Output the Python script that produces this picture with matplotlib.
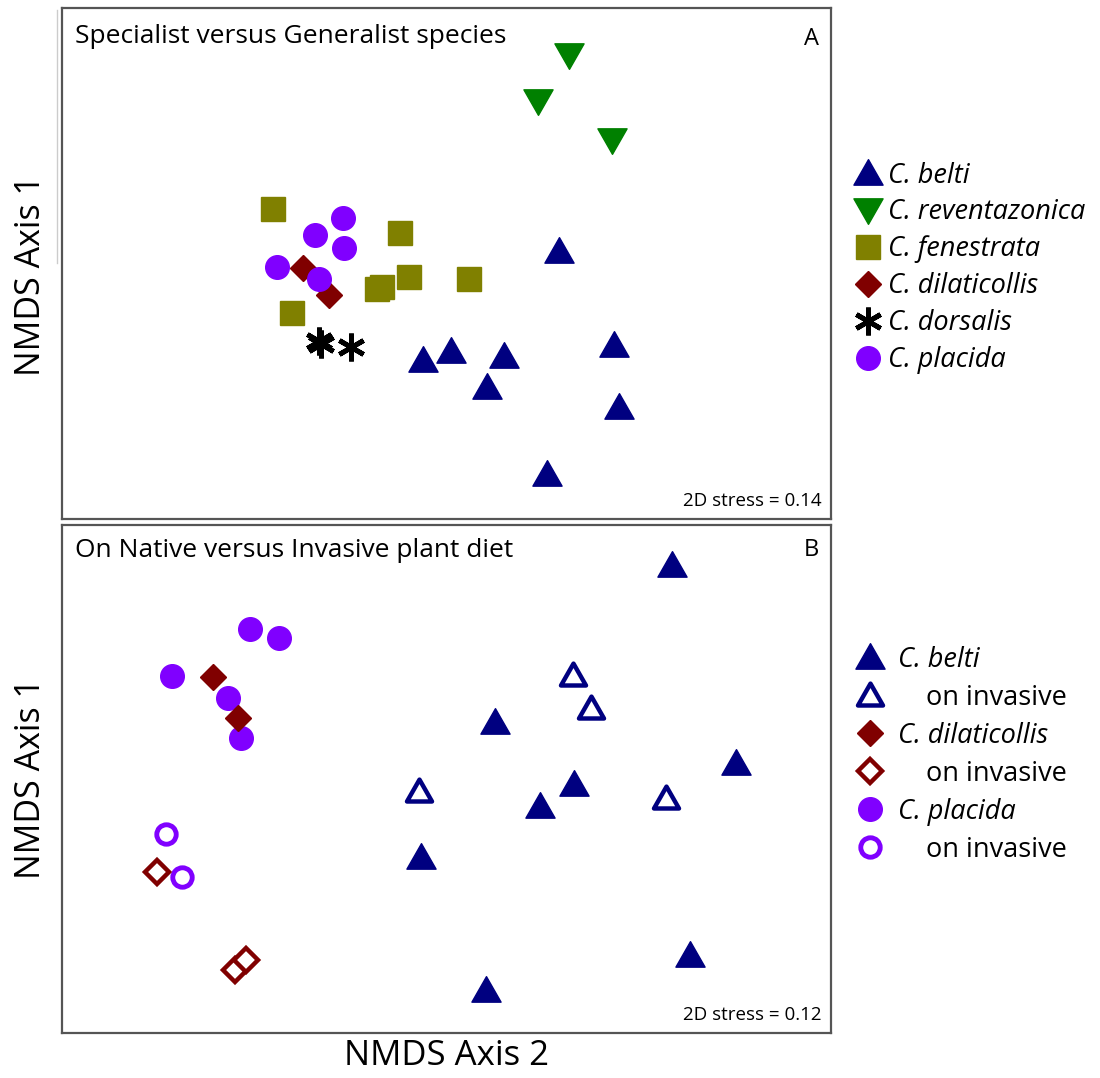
import matplotlib
matplotlib.use('Agg')
import matplotlib.pyplot as plt
from matplotlib.lines import Line2D
from matplotlib.path import Path

plt.rcParams['font.family'] = ['Open Sans', 'DejaVu Sans']

# ---- panel A: specialist vs generalist (NMDS scores, arbitrary units) ----
belti_a_x = [497, 552, 361, 389, 442, 425, 557, 485]
belti_a_y = [268, 174, 159, 168, 163, 132, 112, 45]
revent_x = [507, 476, 550]
revent_y = [464, 418, 379]
fenest_x = [211, 338, 347, 315, 320, 407, 230]
fenest_y = [310, 286, 242, 230, 232, 240, 206]
dilat_a_x = [241, 267]
dilat_a_y = [251, 224]
dorsal_x = [257, 259, 289]
dorsal_y = [178, 175, 172]
placida_a_x = [281, 253, 282, 215, 257]
placida_a_y = [301, 284, 271, 252, 240]

# ---- panel B: native vs invasive plant diet ----
belti_nat_x = [610, 433, 674, 512, 478, 359, 628, 424]
belti_nat_y = [468, 311, 270, 249, 227, 176, 78, 43]
belti_inv_x = [511, 529, 357, 604]
belti_inv_y = [358, 325, 242, 235]
dilat_nat_x = [151, 176]
dilat_nat_y = [356, 315]
dilat_inv_x = [95, 173, 184]
dilat_inv_y = [161, 63, 73]
placida_nat_x = [188, 217, 110, 166, 179]
placida_nat_y = [404, 395, 357, 335, 295]
placida_inv_x = [104, 120]
placida_inv_y = [199, 156]

NAVY = '#000080'
GREEN = '#008000'
OLIVE = '#808000'
DRED = '#800000'
PURPLE = '#8000ff'

tri_up = Path([(-1, -0.8), (1, -0.8), (0, 0.95), (-1, -0.8)], closed=True)
tri_dn = Path([(-1, 0.8), (1, 0.8), (0, -0.95), (-1, 0.8)], closed=True)
asterisk = (6, 2, 0)

fig = plt.figure(figsize=(11, 10.78), dpi=100)
W, H = 1100.0, 1078.0
axA = fig.add_axes([62 / W, 1 - 519 / H, 769 / W, 511 / H])
axB = fig.add_axes([62 / W, 1 - 1033 / H, 769 / W, 508 / H])

for ax, ylim in ((axA, 511), (axB, 508)):
    ax.set_xlim(0, 769)
    ax.set_ylim(0, ylim)
    ax.set_xticks([])
    ax.set_yticks([])
    for s in ax.spines.values():
        s.set_color('#555555')
        s.set_linewidth(1.6)

# panel A points
axA.plot(belti_a_x, belti_a_y, ls='none', marker=tri_up, ms=21, color=NAVY)
axA.plot(revent_x, revent_y, ls='none', marker=tri_dn, ms=21, color=GREEN)
axA.plot(fenest_x, fenest_y, ls='none', marker='s', ms=17, color=OLIVE)
axA.plot(dilat_a_x, dilat_a_y, ls='none', marker='D', ms=13.5, color=DRED)
axA.plot(dorsal_x, dorsal_y, ls='none', marker=asterisk, ms=20, mew=3.5, color='black')
axA.plot(placida_a_x, placida_a_y, ls='none', marker='o', ms=17, color=PURPLE)

# panel B points
axB.plot(belti_nat_x, belti_nat_y, ls='none', marker=tri_up, ms=21, color=NAVY)
axB.plot(belti_inv_x, belti_inv_y, ls='none', marker=tri_up, ms=18, mfc='white', mec=NAVY, mew=3.2)
axB.plot(placida_nat_x, placida_nat_y, ls='none', marker='o', ms=17, color=PURPLE)
axB.plot(dilat_nat_x, dilat_nat_y, ls='none', marker='D', ms=13.5, color=DRED)
axB.plot(placida_inv_x, placida_inv_y, ls='none', marker='o', ms=14, mfc='white', mec=PURPLE, mew=3.5)
axB.plot(dilat_inv_x, dilat_inv_y, ls='none', marker='D', ms=12, mfc='white', mec=DRED, mew=3.2)

# panel annotations
axA.text(0.017, 0.945, 'Specialist versus Generalist species', transform=axA.transAxes,
         fontsize=19, va='center', ha='left')
axA.text(0.985, 0.94, 'A', transform=axA.transAxes, fontsize=17, va='center', ha='right')
axA.text(0.988, 0.035, '2D stress = 0.14', transform=axA.transAxes, fontsize=13.5,
         va='center', ha='right')
axB.text(0.017, 0.95, 'On Native versus Invasive plant diet', transform=axB.transAxes,
         fontsize=19, va='center', ha='left')
axB.text(0.985, 0.95, 'B', transform=axB.transAxes, fontsize=17, va='center', ha='right')
axB.text(0.988, 0.035, '2D stress = 0.12', transform=axB.transAxes, fontsize=13.5,
         va='center', ha='right')

axA.set_ylabel('NMDS Axis 1', fontsize=24.5)
axB.set_ylabel('NMDS Axis 1', fontsize=24.5)
axA.yaxis.set_label_coords(-0.018, 0.476)
axB.yaxis.set_label_coords(-0.018, 0.5)
axB.set_xlabel('NMDS Axis 2', fontsize=25, labelpad=4)

# faint leftover line left of panel A
fig.add_artist(Line2D([57 / W, 57 / W], [1 - 10 / H, 1 - 263 / H], color='#cccccc', lw=1))

# legends
hA = [Line2D([], [], ls='none', marker=tri_up, ms=21, color=NAVY),
      Line2D([], [], ls='none', marker=tri_dn, ms=21, color=GREEN),
      Line2D([], [], ls='none', marker='s', ms=17, color=OLIVE),
      Line2D([], [], ls='none', marker='D', ms=13.5, color=DRED),
      Line2D([], [], ls='none', marker=asterisk, ms=20, mew=3.5, color='black'),
      Line2D([], [], ls='none', marker='o', ms=17, color=PURPLE)]
labA = ['C. belti', 'C. reventazonica', 'C. fenestrata', 'C. dilaticollis', 'C. dorsalis', 'C. placida']
legA = fig.legend(hA, labA, loc='upper left', bbox_to_anchor=(842 / W, 1 - 148 / H),
                  frameon=False, labelspacing=0.33, handlelength=0.9,
                  handletextpad=0.3, borderpad=0, prop={'style': 'italic', 'size': 19.5})

hB = [Line2D([], [], ls='none', marker=tri_up, ms=21, color=NAVY),
      Line2D([], [], ls='none', marker=tri_up, ms=18, mfc='white', mec=NAVY, mew=3.2),
      Line2D([], [], ls='none', marker='D', ms=13.5, color=DRED),
      Line2D([], [], ls='none', marker='D', ms=12, mfc='white', mec=DRED, mew=3.2),
      Line2D([], [], ls='none', marker='o', ms=17, color=PURPLE),
      Line2D([], [], ls='none', marker='o', ms=14, mfc='white', mec=PURPLE, mew=3.5)]
labB = ['C. belti', '    on invasive', 'C. dilaticollis', '    on invasive', 'C. placida', '    on invasive']
legB = fig.legend(hB, labB, loc='upper left', bbox_to_anchor=(844 / W, 1 - 632 / H),
                  frameon=False, labelspacing=0.37, handlelength=0.9,
                  handletextpad=0.6, borderpad=0, prop={'size': 19.5})
for i, t in enumerate(legB.get_texts()):
    if i % 2 == 0:
        t.set_fontstyle('italic')

fig.savefig('out.png', dpi=100)
